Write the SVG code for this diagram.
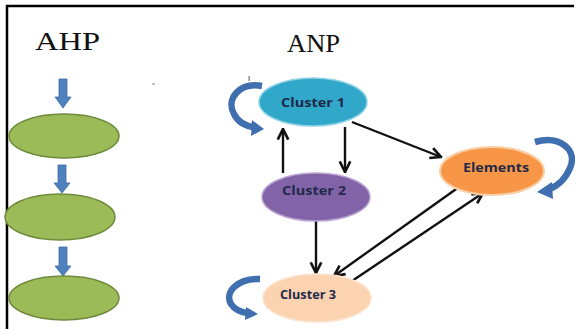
<svg xmlns="http://www.w3.org/2000/svg" width="575" height="329" viewBox="0 0 575 329">
<defs>
<style>
.title{font-family:"Liberation Serif",serif;font-size:25px;fill:#111;}
.lbl{font-family:"Open Sans","Liberation Sans",sans-serif;font-weight:bold;font-size:12.5px;fill:#1f2a48;text-anchor:middle;}
.green{fill:#9bbb59;stroke:#6f8a3a;stroke-width:1.5;}
.barrow{fill:#4f81bd;stroke:#3d6ba3;stroke-width:0.8;}
.conn{stroke:#111;stroke-width:2.4;fill:none;marker-end:url(#ah);}
.loop{stroke:#3f6fae;stroke-width:6.5;fill:none;stroke-linecap:butt;}
.loophead{fill:#3f6fae;}
</style>
<marker id="ah" viewBox="0 0 10 10" refX="9" refY="5" markerWidth="5.5" markerHeight="5.5" orient="auto" markerUnits="strokeWidth">
<path d="M1,1 L9,5 L1,9" fill="none" stroke="#111" stroke-width="2"/>
</marker>
</defs>
<rect x="0" y="0" width="575" height="329" fill="#ffffff"/>
<g id="frame">
<line x1="6" y1="6" x2="574" y2="6" stroke="#000" stroke-width="2.5"/>
<line x1="7" y1="5" x2="7" y2="329" stroke="#000" stroke-width="2.5"/>
</g>
<text class="title" x="35" y="50" textLength="65" lengthAdjust="spacingAndGlyphs">AHP</text>
<text class="title" x="287" y="52" textLength="53" lengthAdjust="spacingAndGlyphs">ANP</text>
<rect x="152" y="83.5" width="3" height="1.2" fill="#999"/>
<rect x="248.5" y="76" width="1.2" height="5" fill="#777"/>

<g id="ahp-arrows">
<polygon class="barrow" points="59,79 67,79 67,97 71,97 63,108 55,97 59,97"/>
<polygon class="barrow" points="58,165 66,165 66,183 70,183 62,193 54,183 58,183"/>
<polygon class="barrow" points="59,247 67,247 67,266 71,266 63,276 55,266 59,266"/>
</g>
<g id="ahp-1"><ellipse class="green" cx="64" cy="136" rx="55" ry="22"/></g>
<g id="ahp-2"><ellipse class="green" cx="60" cy="217" rx="55" ry="23"/></g>
<g id="ahp-3"><ellipse class="green" cx="64" cy="298" rx="55" ry="22"/></g>

<g id="connectors">
<line class="conn" x1="283" y1="173" x2="283" y2="129"/>
<line class="conn" x1="345" y1="127" x2="345" y2="172"/>
<line class="conn" x1="352" y1="122" x2="441" y2="157"/>
<line class="conn" x1="316" y1="221" x2="316" y2="273"/>
<line class="conn" x1="459" y1="187" x2="334" y2="276"/>
<line class="conn" x1="352" y1="281" x2="483" y2="193"/>
</g>

<g id="loops">
<path class="loop" d="M262 86 C238 82 226 100 234 114 C238 122 245 126 254 127"/>
<polygon class="loophead" points="252,120 264,129 251,136"/>
<path class="loop" d="M535 142 C560 135 578 150 570 168 C566 178 558 186 549 189"/>
<polygon class="loophead" points="552,182 537,192 553,199"/>
<path class="loop" d="M260 279 C238 278 224 292 231 304 C235 310 240 312 247 313"/>
<polygon class="loophead" points="246,307 258,314 245,320"/>
</g>

<g id="cluster1">
<ellipse cx="313" cy="102" rx="54" ry="24" fill="#31a7ca" stroke="#8fd3e6" stroke-width="1.5"/>
<text class="lbl" x="313" y="107" textLength="64" lengthAdjust="spacingAndGlyphs">Cluster 1</text>
</g>
<g id="cluster2">
<ellipse cx="316" cy="197" rx="54" ry="24" fill="#8263a8" stroke="#b9a4d2" stroke-width="1.5"/>
<text class="lbl" x="314" y="195" textLength="64" lengthAdjust="spacingAndGlyphs">Cluster 2</text>
</g>
<g id="elements">
<ellipse cx="492" cy="171" rx="52" ry="24" fill="#f79646" stroke="#fbd0a8" stroke-width="2"/>
<text class="lbl" x="496" y="172" textLength="66" lengthAdjust="spacingAndGlyphs">Elements</text>
</g>
<g id="cluster3">
<ellipse cx="317" cy="298" rx="54" ry="24" fill="#fcd3b0" stroke="#fbe3cf" stroke-width="1.5"/>
<text class="lbl" x="308" y="299" textLength="56" lengthAdjust="spacingAndGlyphs">Cluster 3</text>
</g>
</svg>
